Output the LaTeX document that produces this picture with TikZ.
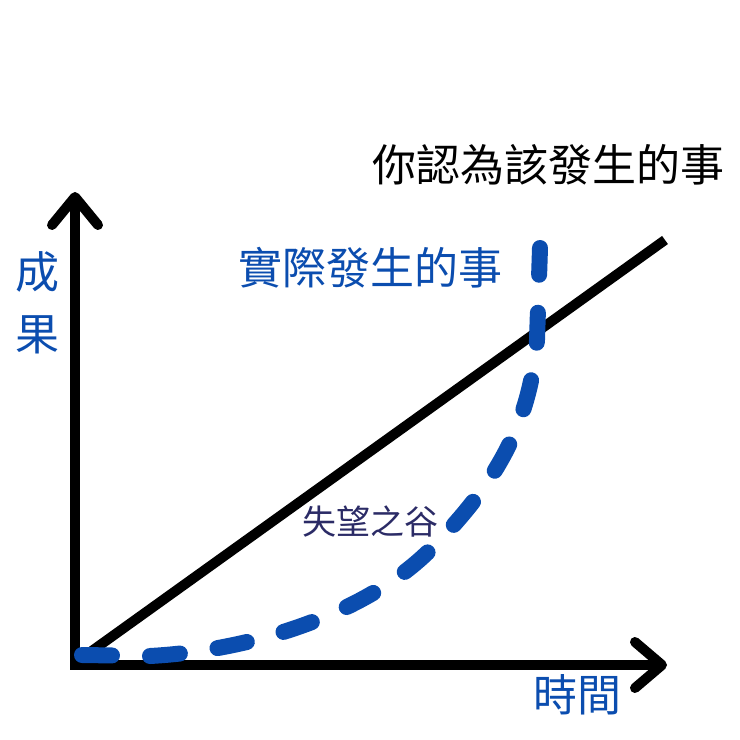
\documentclass[tikz,border=0pt]{standalone}
\usepackage{fontspec}
\newfontfamily\cjk{Noto Sans CJK TC}
\definecolor{blu}{HTML}{0B4DAF}
\definecolor{navy}{HTML}{2B2B66}
\begin{document}
\begin{tikzpicture}[x=1pt,y=-1pt,
  axis/.style={line width=10pt,black},
  chev/.style={line width=10pt,black,line cap=round,line join=round},
  lbl/.style={font=\cjk\fontsize{44}{44}\selectfont,inner sep=0pt}]
\useasboundingbox (0,0) rectangle (740,740);
\coordinate (o) at (75,665);
\coordinate (yt) at (75,197);
\coordinate (xr) at (662,665);
\draw[axis] (75,668) -- (yt);
\draw[axis] (70,665) -- (xr);
\draw[chev] (52,225) -- (yt) -- (98,225);
\draw[chev] (635,642) -- (xr) -- (635,688);
\coordinate (d1) at (82,658);
\coordinate (d2) at (665,240);
\draw[axis] (d1) -- (d2);
\draw[blu,line width=16pt,line cap=round,dash pattern=on 30pt off 38pt]
 (82,655) -- (150,656) .. controls (260,650) and (370,610) .. (430,550)
 .. controls (500,480) and (530,420) .. (537,340) -- (540,248);
\node[lbl] (t1) at (548,165) {你認為該發生的事};
\node[lbl,text=blu] (t2) at (370,268) {實際發生的事};
\node[lbl,text=blu] (t3) at (38,272) {成};
\node[lbl,text=blu] (t4) at (38,335) {果};
\node[lbl,text=blu] (t5) at (577,695) {時間};
\node[lbl,text=navy,font=\cjk\fontsize{34}{34}\selectfont] (t6) at (370,522) {失望之谷};
\end{tikzpicture}
\end{document}
